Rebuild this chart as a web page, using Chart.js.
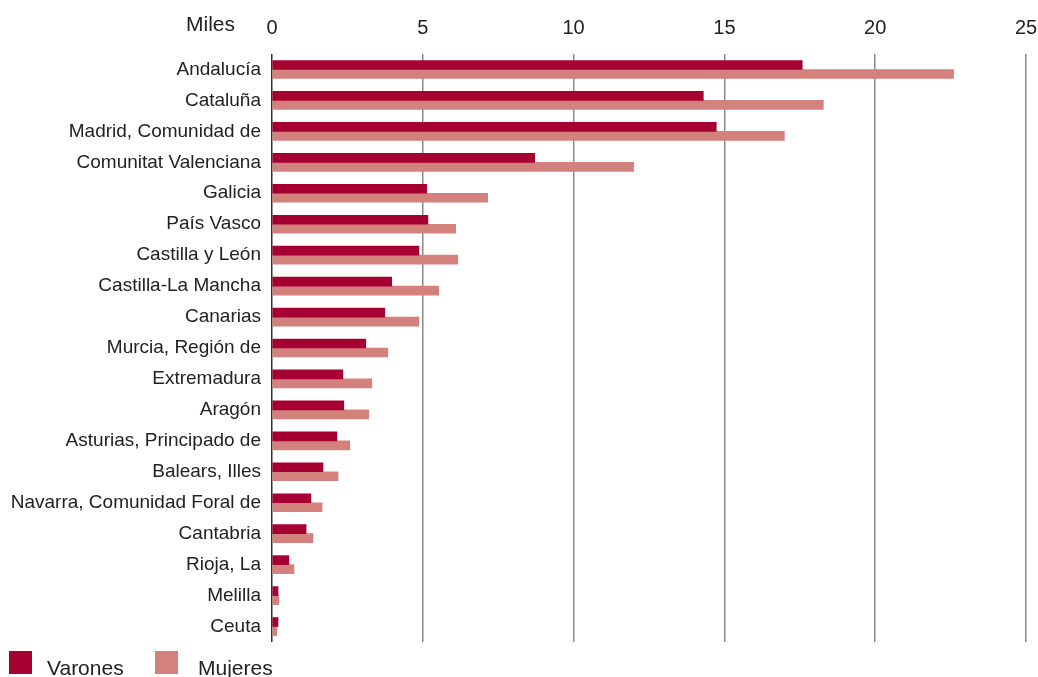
<!DOCTYPE html>
<html>
<head>
<meta charset="utf-8">
<script src="https://cdn.jsdelivr.net/npm/chart.js@4.4.1/dist/chart.umd.min.js"></script>
<style>
  html, body { margin: 0; padding: 0; background: #fff; }
  #wrap { width: 1038px; height: 677px; position: relative; }
</style>
</head>
<body>
<div id="wrap"><canvas id="regionsChart" width="1038" height="677"></canvas></div>
<script>
const regions = [
    'Andalucía', 'Cataluña', 'Madrid, Comunidad de', 'Comunitat Valenciana', 'Galicia',
    'País Vasco', 'Castilla y León', 'Castilla-La Mancha', 'Canarias', 'Murcia, Región de',
    'Extremadura', 'Aragón', 'Asturias, Principado de', 'Balears, Illes',
    'Navarra, Comunidad Foral de', 'Cantabria', 'Rioja, La', 'Melilla', 'Ceuta'
];
const varones = [17.58, 14.3, 14.73, 8.71, 5.13, 5.17, 4.87, 3.97, 3.74, 3.11,
    2.35, 2.38, 2.15, 1.69, 1.29, 1.13, 0.56, 0.2, 0.2];
const mujeres = [22.6, 18.28, 16.99, 11.99, 7.15, 6.09, 6.16, 5.53, 4.87, 3.84,
    3.31, 3.21, 2.58, 2.19, 1.66, 1.36, 0.73, 0.23, 0.16];
const seriesNames = ['Varones', 'Mujeres'];
const seriesColors = ['#A60032', '#D3817D'];
const unitLabel = 'Miles';

const FONT = '"Liberation Sans", Arial, sans-serif';
const TEXT = '#222222';

// "Miles" next to the top tick labels + legend squares at the bottom
const extrasPlugin = {
    id: 'extras',
    afterDraw(chart) {
        const ctx = chart.ctx;
        ctx.save();
        ctx.fillStyle = TEXT;
        ctx.font = '21px ' + FONT;
        ctx.textAlign = 'right';
        ctx.textBaseline = 'middle';
        ctx.fillText(unitLabel, 235, 25);

        const items = [{ box: 9, text: 47 }, { box: 155, text: 198 }];
        chart.data.datasets.forEach((ds, i) => {
            ctx.fillStyle = ds.backgroundColor;
            ctx.fillRect(items[i].box, 651, 23, 23);
            ctx.fillStyle = TEXT;
            ctx.font = '21px ' + FONT;
            ctx.textAlign = 'left';
            ctx.textBaseline = 'alphabetic';
            ctx.fillText(ds.label, items[i].text, 675);
        });
        ctx.restore();
    }
};

new Chart(document.getElementById('regionsChart'), {
    type: 'bar',
    data: {
        labels: regions,
        datasets: [
            { label: seriesNames[0], data: varones, backgroundColor: seriesColors[0] },
            { label: seriesNames[1], data: mujeres, backgroundColor: seriesColors[1] },
        ],
    },
    options: {
        indexAxis: 'y',
        responsive: false,
        animation: false,
        devicePixelRatio: 1,
        datasets: {
            bar: { barThickness: 9, categoryPercentage: 0.6, barPercentage: 1 },
        },
        layout: { padding: { left: 0, right: 12, top: 0, bottom: 35 } },
        plugins: {
            legend: { display: false },
            tooltip: { enabled: false },
        },
        scales: {
            x: {
                position: 'top',
                min: 0,
                max: 25,
                ticks: {
                    stepSize: 5,
                    color: TEXT,
                    font: { family: FONT, size: 20 },
                    padding: 14,
                },
                grid: {
                    drawTicks: false,
                    color: (c) => (c.tick && c.tick.value === 0 ? '#333333' : '#8a8a8a'),
                    lineWidth: 1.5,
                },
                border: { display: false },
                afterFit(scale) {
                    scale.height = 54;
                    scale.paddingLeft = 0;
                    scale.paddingRight = 0;
                },
            },
            y: {
                ticks: {
                    color: TEXT,
                    font: { family: FONT, size: 19 },
                    padding: 11,
                    autoSkip: false,
                },
                grid: { display: false, drawTicks: false },
                border: { display: false },
                afterFit(scale) { scale.width = 272; },
            },
        },
    },
    plugins: [extrasPlugin],
});
</script>
</body>
</html>
